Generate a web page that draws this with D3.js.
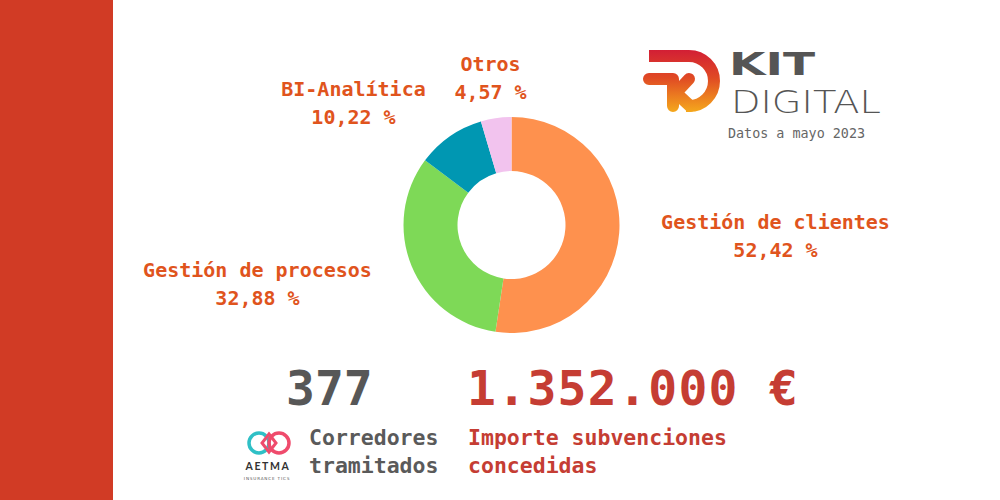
<!DOCTYPE html>
<html>
<head>
<meta charset="utf-8">
<script src="https://cdn.jsdelivr.net/npm/d3@7"></script>
<style>
  html, body { margin: 0; padding: 0; background: #fff; }
  svg { display: block; }
  .mono { font-family: "DejaVu Sans Mono", "Liberation Mono", monospace; font-weight: bold; }
</style>
</head>
<body>
<div id="chart"></div>
<script>
// data
var categories = ["Gestión de clientes", "Gestión de procesos", "BI-Analítica", "Otros"];
var shares = [52.42, 32.88, 10.22, 4.57];
var shareLabels = ["52,42 %", "32,88 %", "10,22 %", "4,57 %"];
var sliceColors = ["#fe914e", "#7ed957", "#0097b2", "#f2c3ee"];
var corredores = "377";
var importe = "1.352.000 €";

// layout for the labels (offsets from donut centre)
var labelPos = [[264, 4], [-254, 52], [-158, -129], [-21, -154]];

var svgW = 1000, svgH = 500;
var svg = d3.select('#chart').append('svg')
    .attr('width', svgW)
    .attr('height', svgH);

svg.append('rect').attr('width', svgW).attr('height', svgH).attr('fill', '#fff');
// red band on the left
svg.append('rect')
    .attr('x', 0).attr('y', 0)
    .attr('width', 113).attr('height', svgH)
    .attr('fill', '#d13b25');

// donut
var cx = 511.5, cy = 225;
var pie = d3.pie().sort(null).value(d => d);
var arc = d3.arc().innerRadius(54).outerRadius(108);
var donut = svg.append('g').attr('transform', `translate(${cx},${cy})`);
donut.selectAll('path')
    .data(pie(shares))
    .enter().append('path')
    .attr('d', arc)
    .attr('fill', (d, i) => sliceColors[i]);

// slice labels
var labels = svg.append('g').attr('class', 'mono')
    .attr('font-size', 20)
    .attr('fill', '#e0541d')
    .attr('text-anchor', 'middle');
categories.forEach(function (c, i) {
    var t = labels.append('text')
        .attr('x', cx + labelPos[i][0])
        .attr('y', cy + labelPos[i][1]);
    t.append('tspan').attr('x', cx + labelPos[i][0]).text(c);
    t.append('tspan').attr('x', cx + labelPos[i][0]).attr('dy', 27.5).text(shareLabels[i]);
});

// bottom figures
var bottom = svg.append('g').attr('class', 'mono');
bottom.append('text')
    .attr('x', 286).attr('y', 405)
    .attr('font-size', 48)
    .attr('fill', '#575757')
    .text(corredores);
bottom.append('text')
    .attr('x', 467).attr('y', 405)
    .attr('font-size', 48)
    .attr('letter-spacing', 1.3)
    .attr('fill', '#c53d33')
    .text(importe);

var sub = bottom.append('g').attr('font-size', 21.5);
sub.append('text').attr('x', 309).attr('y', 445).attr('fill', '#5a5a5a').text('Corredores');
sub.append('text').attr('x', 309).attr('y', 473).attr('fill', '#5a5a5a').text('tramitados');
sub.append('text').attr('x', 468).attr('y', 445).attr('fill', '#c53d33').text('Importe subvenciones');
sub.append('text').attr('x', 468).attr('y', 473).attr('fill', '#c53d33').text('concedidas');

// AETMA logo
var aetma = svg.append('g');
aetma.append('circle').attr('cx', 259).attr('cy', 443).attr('r', 10)
    .attr('fill', 'none').attr('stroke', '#2fc0c6').attr('stroke-width', 3.5);
aetma.append('circle').attr('cx', 279).attr('cy', 443).attr('r', 10)
    .attr('fill', 'none').attr('stroke', '#ef4b6c').attr('stroke-width', 3.5);
aetma.append('path')
    .attr('d', 'M269,434 L276,443 L269,452 L262,443 Z')
    .attr('fill', 'none').attr('stroke', '#ef4b6c').attr('stroke-width', 3);
aetma.append('text')
    .attr('x', 268).attr('y', 470)
    .attr('text-anchor', 'middle')
    .attr('font-family', 'Lato, "DejaVu Sans", sans-serif')
    .attr('font-size', 10.5).attr('font-weight', 'bold')
    .attr('letter-spacing', 1.6)
    .attr('fill', '#333')
    .text('AETMA');
aetma.append('text')
    .attr('x', 267).attr('y', 480)
    .attr('text-anchor', 'middle')
    .attr('font-family', '"DejaVu Sans", sans-serif')
    .attr('font-size', 4.2)
    .attr('letter-spacing', 0.8)
    .attr('fill', '#555')
    .text('INSURANCE TICS');

// KIT DIGITAL logo
var defs = svg.append('defs');
var grad = defs.append('linearGradient')
    .attr('id', 'kdgrad')
    .attr('gradientUnits', 'userSpaceOnUse')
    .attr('x1', 0).attr('y1', 50).attr('x2', 0).attr('y2', 112);
grad.append('stop').attr('offset', '0%').attr('stop-color', '#d21f35');
grad.append('stop').attr('offset', '45%').attr('stop-color', '#e04a24');
grad.append('stop').attr('offset', '100%').attr('stop-color', '#f5a81c');

var kd = svg.append('g')
    .attr('fill', 'none')
    .attr('stroke', 'url(#kdgrad)')
    .attr('stroke-width', 12)
    .attr('stroke-linecap', 'round')
    .attr('stroke-linejoin', 'round');
kd.append('path').attr('d', 'M649,56 H689 A25,25 0 0 1 689,106 H686')
    .attr('stroke-linecap', 'butt');
kd.append('path').attr('d', 'M649,79 H673 V106');
kd.append('path').attr('d', 'M675,94 L689,79');
kd.append('path').attr('d', 'M675,92 L690,106');

svg.append('text')
    .attr('x', 729).attr('y', 75)
    .attr('font-family', '"DejaVu Sans", sans-serif')
    .attr('font-size', 32).attr('font-weight', 'bold')
    .attr('fill', '#555')
    .attr('textLength', 86).attr('lengthAdjust', 'spacingAndGlyphs')
    .text('KIT');
svg.append('text')
    .attr('x', 731).attr('y', 113)
    .attr('font-family', '"DejaVu Sans", sans-serif')
    .attr('font-size', 32).attr('font-weight', 200)
    .attr('fill', '#555')
    .attr('textLength', 150).attr('lengthAdjust', 'spacingAndGlyphs')
    .text('DIGITAL');
svg.append('text')
    .attr('x', 728).attr('y', 138)
    .attr('font-family', '"DejaVu Sans Mono", monospace')
    .attr('font-size', 13.4)
    .attr('fill', '#666')
    .text('Datos a mayo 2023');
</script>
</body>
</html>
